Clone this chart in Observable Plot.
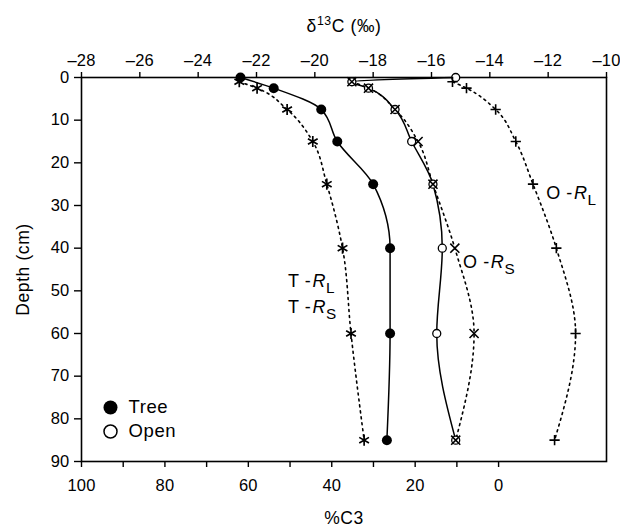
<!DOCTYPE html>
<html>
<head>
<meta charset="utf-8">
<script src="https://cdn.jsdelivr.net/npm/d3@7"></script>
<script src="https://cdn.jsdelivr.net/npm/@observablehq/plot@0.6"></script>
<style>
  html, body { margin: 0; padding: 0; background: #fff; }
  #chart svg { display: block; }
  #chart svg text { letter-spacing: 0.6px; }
  #chart svg g[aria-label$="tick label"] text { letter-spacing: 0.2px; }
</style>
</head>
<body>
<div id="chart"></div>
<script>
// ---- data (δ13C ‰ vs depth cm) ----
const treeDepth = [0, 2.5, 7.5, 15, 25, 40, 60, 85];
const treeObs   = [-22.55, -21.41, -19.78, -19.23, -18.0, -17.42, -17.42, -17.53];
const openDepth = [0, 1, 2.5, 7.5, 15, 25, 40, 60, 85];
const openObs   = [-15.17, -18.73, -18.16, -17.25, -16.68, -15.95, -15.63, -15.82, -15.17];
const modelDepth = [1, 2.5, 7.5, 15, 25, 40, 60, 85];
const treeR  = [-22.59, -21.98, -20.95, -20.07, -19.59, -19.05, -18.76, -18.31]; // T-RL ≈ T-RS
const openRL = [-15.28, -14.80, -13.80, -13.11, -12.52, -11.72, -11.06, -11.78];
const openRS = [-18.73, -18.16, -17.25, -16.46, -15.95, -15.20, -14.54, -15.17];

// ---- axes ----
const deltaTicks = [-28, -26, -24, -22, -20, -18, -16, -14, -12, -10];
const depthTicks = [0, 10, 20, 30, 40, 50, 60, 70, 80, 90];
const pctTicks   = [100, 90, 80, 70, 60, 50, 40, 30, 20, 10, 0];
const pctLabels  = [100, 80, 60, 40, 20, 0];
const C3_END = -28.0, C4_END = -13.7;   // mixing end members for %C3 axis
const legendNames = ["Tree", "Open"];

const pctToDelta = p => C4_END + (C3_END - C4_END) * p / 100;
const deltaToPct = d => (d - C4_END) / (C3_END - C4_END) * 100;

const rows = (depths, vals) => depths.map((depth, i) => ({depth, v: vals[i]}));
const treeRows = rows(treeDepth, treeObs);
const openRows = rows(openDepth, openObs);
const treeRRows = rows(modelDepth, treeR);
const openRLRows = rows(modelDepth, openRL);
const openRSRows = rows(modelDepth, openRS);

const FONT = "'Liberation Sans', Arial, Helvetica, sans-serif";
const dotted = {stroke: "#000", strokeWidth: 1.6, strokeDasharray: "2,4", curve: "monotone-y"};
const solid = {stroke: "#000", strokeWidth: 1.5, curve: "monotone-y"};

const chart = Plot.plot({
  width: 620,
  height: 527,
  marginLeft: 81,
  marginRight: 14,
  marginTop: 77,
  marginBottom: 66,
  style: {fontFamily: FONT, fontSize: "17px", color: "#000", background: "#fff"},
  x: {domain: [-28, -10], axis: null},
  y: {domain: [0, 90], reverse: true, axis: null},
  marks: [
    // axes
    Plot.axisX({anchor: "top", ticks: deltaTicks, tickSize: 6, tickPadding: 6, strokeWidth: 1.4, fontSize: 16.5,
      tickFormat: d => d < 0 ? "\u2013" + Math.abs(d) : String(d), label: null}),
    Plot.axisX({anchor: "bottom", ticks: pctTicks.map(pctToDelta), tickSize: 6, tickPadding: 12, strokeWidth: 1.4, fontSize: 16.5,
      tickFormat: d => { const p = Math.round(deltaToPct(d)); return pctLabels.includes(p) ? String(p) : ""; }, label: null}),
    Plot.axisY({anchor: "left", ticks: depthTicks, tickSize: 7, tickPadding: 5, strokeWidth: 1.4, fontSize: 16.5, label: null}),
    Plot.frame({stroke: "#000", strokeWidth: 1.6}),

    // axis titles
    Plot.text(["d13C"], {frameAnchor: "top", dy: -51, textAnchor: "middle", lineAnchor: "middle", fontSize: 17.5}),
    Plot.text(["%C3"], {frameAnchor: "bottom", dy: 57, textAnchor: "middle", lineAnchor: "middle", fontSize: 17.5}),
    Plot.text(["Depth (cm)"], {frameAnchor: "left", dx: -58, rotate: -90, textAnchor: "middle", lineAnchor: "middle", fontSize: 17.5}),

    // lines
    Plot.line(treeRRows, {x: "v", y: "depth", ...dotted}),
    Plot.line(openRLRows, {x: "v", y: "depth", ...dotted}),
    Plot.line(openRSRows, {x: "v", y: "depth", ...dotted}),
    Plot.line(treeRows, {x: "v", y: "depth", ...solid}),
    Plot.line(openRows, {x: "v", y: "depth", ...solid}),

    // points
    Plot.dot(treeRows, {x: "v", y: "depth", r: 5, fill: "#000", stroke: "none"}),
    Plot.dot(openRows, {x: "v", y: "depth", r: 4, fill: "#fff", stroke: "#000", strokeWidth: 1.3}),
    Plot.dot(treeRRows, {x: "v", y: "depth", symbol: "asterisk", r: 5.3, stroke: "#000", strokeWidth: 1.7}),
    Plot.dot(openRLRows, {x: "v", y: "depth", symbol: "plus", r: 3.4, stroke: "#000", strokeWidth: 1.6}),
    Plot.dot(openRSRows, {x: "v", y: "depth", symbol: "times", r: 4.2, stroke: "#000", strokeWidth: 1.6}),

    // curve labels
    Plot.text(["T-RL"], {x: () => -20.92, y: () => 49.1, lineAnchor: "bottom", textAnchor: "start", fontSize: 18}),
    Plot.text(["T-RS"], {x: () => -20.92, y: () => 55.1, lineAnchor: "bottom", textAnchor: "start", fontSize: 18}),
    Plot.text(["O-RL"], {x: () => -12.07, y: () => 28.4, lineAnchor: "bottom", textAnchor: "start", fontSize: 18}),
    Plot.text(["O-RS"], {x: () => -14.92, y: () => 44.6, lineAnchor: "bottom", textAnchor: "start", fontSize: 18}),

    // legend
    Plot.dot([legendNames[0]], {frameAnchor: "bottom-left", dx: 29, dy: -54, r: 7, fill: "#000"}),
    Plot.dot([legendNames[1]], {frameAnchor: "bottom-left", dx: 29, dy: -30, r: 6.5, fill: "#fff", stroke: "#000", strokeWidth: 1.5}),
    Plot.text([legendNames[0]], {frameAnchor: "bottom-left", dx: 47, dy: -54, textAnchor: "start", lineAnchor: "middle", fontSize: 18.5}),
    Plot.text([legendNames[1]], {frameAnchor: "bottom-left", dx: 47, dy: -30, textAnchor: "start", lineAnchor: "middle", fontSize: 18.5})
  ]
});

document.getElementById("chart").appendChild(chart);

// rich text (italic, sub/superscripts) as real tspans
const richText = {
  "d13C": [["\u03B4"], ["13", "sup"], ["C (\u2030)"]],
  "T-RL": [["T -"], ["R", "i"], ["L", "sub"]],
  "T-RS": [["T -"], ["R", "i"], ["S", "sub"]],
  "O-RL": [["O -"], ["R", "i"], ["L", "sub"]],
  "O-RS": [["O -"], ["R", "i"], ["S", "sub"]]
};
d3.select(chart).selectAll("text").each(function () {
  const parts = richText[this.textContent];
  if (!parts) return;
  const fs = parseFloat(getComputedStyle(this).fontSize) || 17;
  const el = d3.select(this);
  el.text(null);
  let shift = 0;
  for (const [t, kind] of parts) {
    const ts = el.append("tspan").text(t);
    let target = 0;
    if (kind === "sup") { ts.attr("font-size", (fs * 0.7) + "px"); target = -fs * 0.42; }
    if (kind === "sub") { ts.attr("font-size", (fs * 0.85) + "px"); target = fs * 0.36; }
    if (kind === "i") { ts.attr("font-style", "italic").attr("dx", 1); }
    if (target !== shift) { ts.attr("dy", target - shift); shift = target; }
  }
});
</script>
</body>
</html>
